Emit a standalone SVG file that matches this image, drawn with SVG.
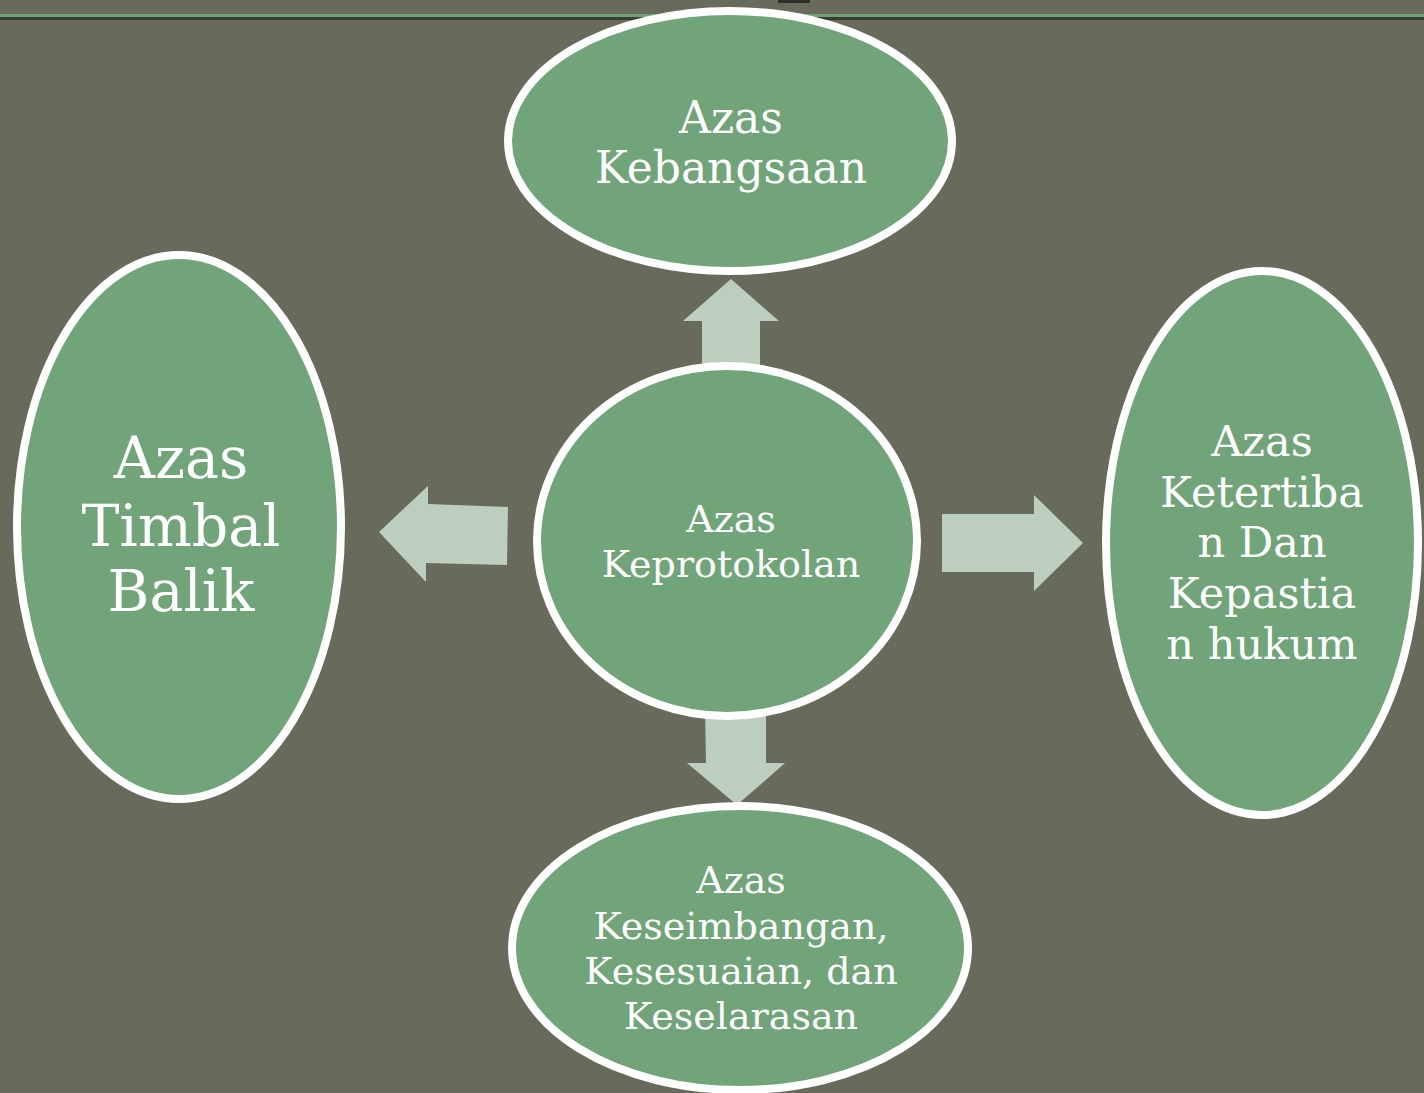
<svg xmlns="http://www.w3.org/2000/svg" width="1424" height="1093" viewBox="0 0 1424 1093">
<style>
.bg{fill:#686a5c}
.node{fill:#71a479;stroke:#ffffff;stroke-width:8}
.arrow{fill:#bccfbf}
.t{fill:#ffffff;font-family:"DejaVu Serif","Liberation Serif",serif;text-anchor:middle}
</style>
<rect class="bg" x="0" y="0" width="1424" height="1093"/>
<rect x="0" y="17" width="1424" height="3" fill="#3b3e34"/>
<rect x="0" y="14" width="1424" height="3" fill="#6fa377"/>
<rect x="778" y="0" width="32" height="3" fill="#2f3129"/>
<g id="connectors">
<polygon class="arrow" points="731,279 779,321 760,321 760,372 702,372 702,321 683,321"/>
<polygon class="arrow" points="705,708 766,708 766,763 785,763 737,805 687,763 706,763"/>
<polygon class="arrow" points="379,532 428,486 428,504 508,507 507,565 426,563 426,582"/>
<polygon class="arrow" points="942,514 1034,514 1034,495 1083,543 1034,591 1034,572 942,572"/>
</g>
<g id="node-kebangsaan">
<ellipse class="node" cx="730" cy="141" rx="222" ry="130"/>
<text class="t" font-size="44" x="731" y="133">Azas</text>
<text class="t" font-size="44" x="731" y="183">Kebangsaan</text>
</g>
<g id="node-keprotokolan">
<ellipse class="node" cx="727" cy="541" rx="190" ry="175"/>
<text class="t" font-size="38" x="731" y="532">Azas</text>
<text class="t" font-size="38" x="731" y="577">Keprotokolan</text>
</g>
<g id="node-timbal-balik">
<ellipse class="node" cx="179" cy="527" rx="162" ry="272"/>
<text class="t" font-size="57" x="181" y="478">Azas</text>
<text class="t" font-size="57" x="181" y="546">Timbal</text>
<text class="t" font-size="57" x="181" y="611">Balik</text>
</g>
<g id="node-ketertiban">
<ellipse class="node" cx="1262" cy="543" rx="156" ry="272"/>
<text class="t" font-size="43" x="1262" y="456">Azas</text>
<text class="t" font-size="43" x="1262" y="507">Ketertiba</text>
<text class="t" font-size="43" x="1262" y="557">n Dan</text>
<text class="t" font-size="43" x="1262" y="608">Kepastia</text>
<text class="t" font-size="43" x="1262" y="659">n hukum</text>
</g>
<g id="node-keseimbangan">
<ellipse class="node" cx="740" cy="948" rx="228" ry="142"/>
<text class="t" font-size="38" x="741" y="893">Azas</text>
<text class="t" font-size="38" x="741" y="939">Keseimbangan,</text>
<text class="t" font-size="38" x="741" y="984">Kesesuaian, dan</text>
<text class="t" font-size="38" x="741" y="1029">Keselarasan</text>
</g>
</svg>
